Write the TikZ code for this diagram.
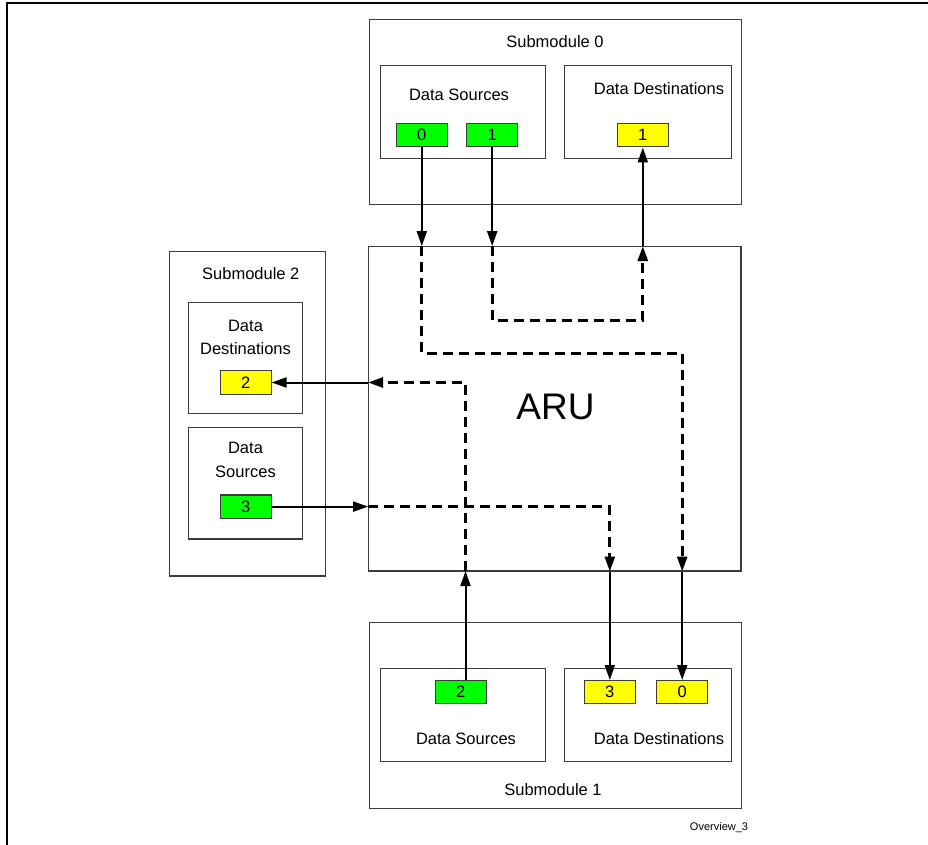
\documentclass[tikz,border=0pt]{standalone}
\usepackage{fontspec}
\setmainfont{Liberation Sans}
\usetikzlibrary{arrows.meta}
\definecolor{srcgreen}{RGB}{0,255,0}
\definecolor{dstyellow}{RGB}{255,255,0}
\definecolor{boxgray}{RGB}{60,60,60}
\begin{document}
\begin{tikzpicture}[x=1pt,y=-1pt,
  box/.style={draw=boxgray,line width=1.1pt,fill=white,rectangle,inner sep=0pt},
  srcbox/.style={draw=boxgray,line width=1.1pt,fill=srcgreen,rectangle,inner sep=0pt,minimum width=51pt,minimum height=23.3pt,font=\fontsize{16.5}{18}\selectfont},
  dstbox/.style={draw=boxgray,line width=1.1pt,fill=dstyellow,rectangle,inner sep=0pt,minimum width=51pt,minimum height=23.3pt,font=\fontsize{16.5}{18}\selectfont},
  lbl/.style={inner sep=0pt,align=center,font=\fontsize{16.5}{23.5}\selectfont},
  conn/.style={line width=2pt,-{Triangle[length=15pt,width=10pt]}},
  dconn/.style={line width=2.8pt,dash pattern=on 10pt off 6pt,-{Triangle[length=15pt,width=10pt]}}
]
\useasboundingbox (0,0) rectangle (928,845);
% partial frame
\coordinate (fbl) at (6.5,845);
\coordinate (ftl) at (6.5,3.5);
\coordinate (ftr) at (928,3.5);
\draw[line width=2pt] (fbl) -- (ftl) -- (ftr);

% Submodule 0
\node[box,minimum width=371.7pt,minimum height=184.7pt] (s0) at (555.2,111.7) {};
\node[lbl] (s0t) at (555,42) {Submodule 0};
\node[box,minimum width=164.6pt,minimum height=92.6pt] (s0ds) at (463,112) {};
\node[lbl] (s0dst) at (459,95) {Data Sources};
\node[box,minimum width=167pt,minimum height=92.6pt] (s0dd) at (647.8,112) {};
\node[lbl] (s0ddt) at (659,89) {Data Destinations};
\node[srcbox] (g0) at (421.8,135.3) {0};
\node[srcbox] (g1) at (492.2,135.3) {1};
\node[dstbox] (y1) at (642.8,135.3) {1};

% ARU
\node[box,minimum width=372.3pt,minimum height=324.3pt] (aru) at (554.8,408.8) {};
\node[inner sep=0pt,font=\fontsize{37}{40}\selectfont] (arut) at (555.5,406.7) {ARU};

% Submodule 2
\node[box,minimum width=156.4pt,minimum height=324.3pt] (s2) at (247.5,413.8) {};
\node[lbl] (s2t) at (250.8,273.3) {Submodule 2};
\node[box,minimum width=113.6pt,minimum height=111pt] (s2dd) at (245.5,357.8) {};
\node[lbl] (s2ddt) at (245.5,337.5) {Data\\Destinations};
\node[dstbox,minimum width=50.7pt] (y2) at (245.7,382.5) {2};
\node[box,minimum width=113.6pt,minimum height=111.3pt] (s2ds) at (245.5,483.3) {};
\node[lbl] (s2dst) at (245.5,459.8) {Data\\Sources};
\node[srcbox,minimum width=50.7pt] (g3) at (245.7,506.6) {3};

% Submodule 1
\node[box,minimum width=371.7pt,minimum height=186pt] (s1) at (555.2,715.3) {};
\node[lbl] (s1t) at (553,790) {Submodule 1};
\node[box,minimum width=164.6pt,minimum height=93pt] (s1ds) at (463,715.2) {};
\node[lbl] (s1dst) at (466,739) {Data Sources};
\node[box,minimum width=167pt,minimum height=93pt] (s1dd) at (647.8,715.2) {};
\node[lbl] (s1ddt) at (659,739) {Data Destinations};
\node[srcbox] (g2) at (460.8,692.2) {2};
\node[dstbox] (y3) at (609.8,692.2) {3};
\node[dstbox] (y0) at (682.2,692.2) {0};

\node[inner sep=0pt,font=\fontsize{11}{13}\selectfont] (ov) at (719,828) {Overview\_3};

% Connector A: source 0 -> destination 0
\coordinate (a1) at (g0.south |- aru.north);
\coordinate (a2) at (421.8,353.3);
\coordinate (a3) at (682.2,353.3);
\coordinate (a4) at (y0.north |- aru.south);
\draw[conn] (g0.south) -- (a1);
\draw[dconn] (a1) -- (a2) -- (a3) -- (a4);
\draw[conn] (a4) -- (y0.north);

% Connector B: source 1 -> destination 1
\coordinate (b1) at (g1.south |- aru.north);
\coordinate (b2) at (492.2,320.3);
\coordinate (b3) at (642.8,320.3);
\coordinate (b4) at (y1.south |- aru.north);
\draw[conn] (g1.south) -- (b1);
\draw[dconn] (b1) -- (b2) -- (b3) -- (b4);
\draw[conn] (b4) -- (y1.south);

% Connector C: source 2 -> destination 2
\coordinate (c0) at (465.5,680.3);
\coordinate (c1) at (465.5,571);
\coordinate (c2) at (465.5,382.5);
\coordinate (c3) at (aru.west |- y2.east);
\draw[conn] (c0) -- (c1);
\draw[dconn] (c1) -- (c2) -- (c3);
\draw[conn] (c3) -- (y2.east);

% Connector D: source 3 -> destination 3
\coordinate (d1) at (aru.west |- g3.east);
\coordinate (d2) at (609.8,506.6);
\coordinate (d3) at (y3.north |- aru.south);
\draw[conn] (g3.east) -- (d1);
\draw[dconn] (d1) -- (d2) -- (d3);
\draw[conn] (d3) -- (y3.north);
\end{tikzpicture}
\end{document}
